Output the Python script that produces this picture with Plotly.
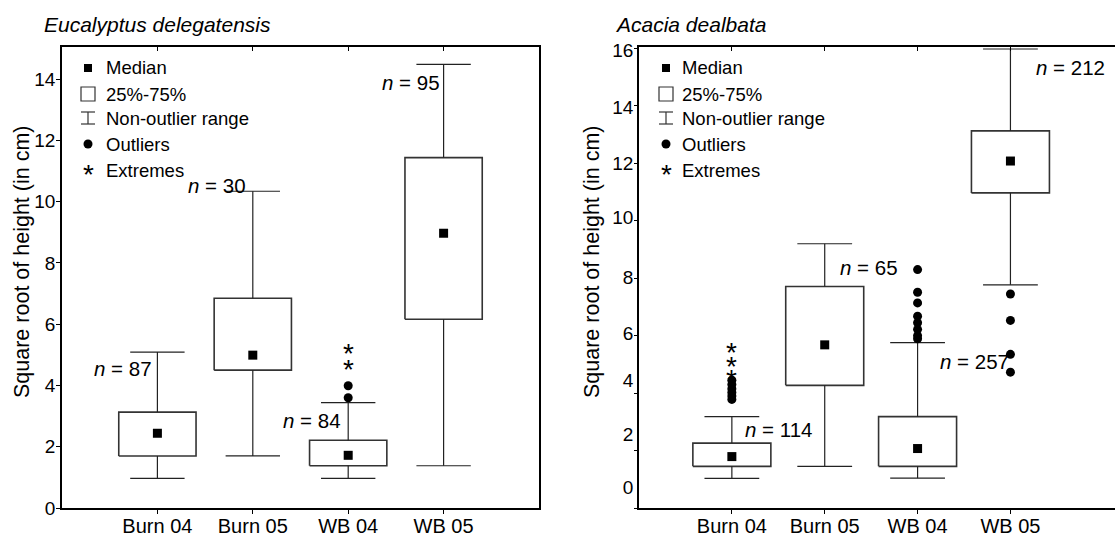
import plotly.graph_objects as go

# ---------------- data ----------------
categories = ["Burn 04", "Burn 05", "WB 04", "WB 05"]

# Eucalyptus delegatensis (square root of height, cm)
euc_low = [0.97, 1.70, 0.97, 1.38]
euc_q1 = [1.70, 4.50, 1.38, 6.16]
euc_median = [2.44, 4.99, 1.72, 8.97]
euc_q3 = [3.13, 6.85, 2.21, 11.44]
euc_high = [5.09, 10.34, 3.44, 14.48]
euc_n = [87, 30, 84, 95]
euc_outliers = [[], [], [3.60, 3.99], []]
euc_extremes = [[], [], [4.75, 5.26], []]

# Acacia dealbata
aca_low = [1.03, 1.45, 1.04, 7.77]
aca_q1 = [1.45, 4.27, 1.45, 10.97]
aca_median = [1.79, 5.68, 2.07, 12.08]
aca_q3 = [2.26, 7.71, 3.18, 13.13]
aca_high = [3.18, 9.20, 5.76, 15.98]
aca_n = [114, 65, 257, 212]
aca_outliers = [[3.78, 3.90, 4.02, 4.15, 4.30, 4.45], [],
                [5.89, 6.00, 6.22, 6.45, 6.68, 7.14, 7.51, 8.30],
                [4.73, 5.35, 6.53, 7.45]]
aca_extremes = [[4.73, 5.17, 5.66], [], [], []]

euc_yticks = [0, 2, 4, 6, 8, 10, 12, 14]
aca_ytick_labels = ["0", "2", "4", "6", "8", "10", "12", "14", "16"]
aca_ytick_marks = [0, 2, 4, 6, 8, 10, 12, 14, 16]
# label positions as printed in the original (slightly offset from tick marks)
aca_ytick_label_pos = [0.73, 2.58, 4.46, 6.09, 8.04, 10.13, 12.01, 13.96, 15.95]

titles = ["Eucalyptus delegatensis", "Acacia dealbata"]
y_title = "Square root of height (in cm)"
legend_items = ["Median", "25%-75%", "Non-outlier range", "Outliers", "Extremes"]

# ---------------- layout helpers ----------------
W, H = 1115, 538
FONT = "Liberation Sans, Arial, sans-serif"
LINE = "#222222"


def pxx(x):
    return x / W


def pxy(y):
    return 1 - y / H


fig = go.Figure()
annotations = []
shapes = []


def add_panel(xa, ya, low, q1, med, q3, high, outl, extr, box_hw, cap_hw):
    idx = list(range(len(categories)))
    # boxes
    bx, by = [], []
    for i in idx:
        bx += [i - box_hw, i + box_hw, i + box_hw, i - box_hw, i - box_hw, None]
        by += [q1[i], q1[i], q3[i], q3[i], q1[i], None]
    fig.add_trace(go.Scatter(x=bx, y=by, mode="lines", xaxis=xa, yaxis=ya,
                             line=dict(color="#333333", width=1.6),
                             hoverinfo="skip", showlegend=False))
    # whiskers
    wx, wy = [], []
    for i in idx:
        wx += [i, i, None, i, i, None, i - cap_hw, i + cap_hw, None, i - cap_hw, i + cap_hw, None]
        wy += [low[i], q1[i], None, q3[i], high[i], None, low[i], low[i], None, high[i], high[i], None]
    fig.add_trace(go.Scatter(x=wx, y=wy, mode="lines", xaxis=xa, yaxis=ya,
                             line=dict(color=LINE, width=1.2),
                             hoverinfo="skip", showlegend=False))
    # medians
    fig.add_trace(go.Scatter(x=idx, y=med, mode="markers", xaxis=xa, yaxis=ya,
                             marker=dict(symbol="square", size=9, color="black"),
                             showlegend=False))
    # outliers
    ox, oy = [], []
    for i in idx:
        for v in outl[i]:
            ox.append(i)
            oy.append(v)
    fig.add_trace(go.Scatter(x=ox, y=oy, mode="markers", xaxis=xa, yaxis=ya,
                             marker=dict(symbol="circle", size=9, color="black"),
                             showlegend=False))
    # extremes, drawn as asterisk glyphs centred on their values
    for i in idx:
        for v in extr[i]:
            annotations.append(dict(x=i, y=v, xref=xa, yref=ya, text="*",
                                    showarrow=False, xanchor="center", yanchor="middle",
                                    yshift=-7,
                                    font=dict(family=FONT, size=28, color="black")))


add_panel("x", "y", euc_low, euc_q1, euc_median, euc_q3, euc_high,
          euc_outliers, euc_extremes, 0.405, 0.285)
add_panel("x2", "y2", aca_low, aca_q1, aca_median, aca_q3, aca_high,
          aca_outliers, aca_extremes, 0.42, 0.295)

# empty helper traces so the overlay axes (top ticks / tick marks) get drawn
for xa, ya in [("x3", "y"), ("x4", "y2"), ("x2", "y4")]:
    fig.add_trace(go.Scatter(x=[None], y=[None], mode="markers", xaxis=xa, yaxis=ya,
                             showlegend=False, hoverinfo="skip"))

ydom = [pxy(508), pxy(47)]
left_dom = [pxx(62), pxx(539)]
right_dom = [pxx(639), 1.0]

tickfont = dict(family=FONT, size=19, color="black")
catfont = dict(family=FONT, size=20, color="black")

common_x = dict(tickmode="array", tickvals=list(range(len(categories))), ticktext=categories,
                showline=True, linecolor="black", linewidth=1.5, ticks="outside",
                ticklen=4, tickcolor="black", showgrid=False, zeroline=False,
                tickfont=catfont, automargin=False, mirror=True,
                ticklabelstandoff=-5)

top_x = dict(side="top", tickmode="array", tickvals=list(range(len(categories))),
             showticklabels=False, ticks="inside", ticklen=4, tickcolor="black",
             showline=True, linecolor="black", linewidth=1.5, showgrid=False,
             zeroline=False, automargin=False)

fig.update_layout(
    width=W, height=H,
    margin=dict(l=0, r=0, t=0, b=0, pad=0, autoexpand=False),
    paper_bgcolor="white", plot_bgcolor="white",
    font=dict(family=FONT, color="black"),
    xaxis=dict(domain=left_dom, range=[-1, 4], anchor="y", **common_x),
    xaxis2=dict(domain=right_dom, range=[-1, 4.126], anchor="y2", **common_x),
    xaxis3=dict(overlaying="x", anchor="y", range=[-1, 4], **top_x),
    xaxis4=dict(overlaying="x2", anchor="y2", range=[-1, 4.126], **top_x),
    yaxis=dict(domain=ydom, range=[0, 15.05], anchor="x", tickmode="array",
               tickvals=euc_yticks, ticks="outside", ticklen=4, tickcolor="black",
               ticklabelstandoff=-3,
               showline=True, linecolor="black", linewidth=1.5, mirror=True,
               showgrid=False, zeroline=False, tickfont=tickfont, automargin=False),
    yaxis2=dict(domain=ydom, range=[0, 16.05], anchor="x2", tickmode="array",
                tickvals=aca_ytick_label_pos, ticktext=aca_ytick_labels, ticks="",
                ticklabelstandoff=0,
                showline=True, linecolor="black", linewidth=1.5,
                showgrid=False, zeroline=False, tickfont=tickfont, automargin=False),
    yaxis4=dict(overlaying="y2", anchor="x2", side="left", range=[0, 16.05],
                tickmode="array", tickvals=aca_ytick_marks, showticklabels=False,
                ticks="outside", ticklen=4, tickcolor="black", showline=False,
                showgrid=False, zeroline=False, automargin=False),
)

# n labels
euc_n_pos = [(-0.04, 4.56), (0.95, 10.53), (1.95, 2.87), (2.98, 13.89)]
aca_n_pos = [(0.12, 2.74), (1.14, 8.37), (2.22, 5.10), (3.25, 15.35)]
for n, (x, y) in zip(euc_n, euc_n_pos):
    annotations.append(dict(x=x, y=y, xref="x", yref="y", text=f"<i>n</i> = {n}",
                            showarrow=False, xanchor="right", yanchor="middle",
                            font=dict(family=FONT, size=20.5, color="black")))
for n, (x, y) in zip(aca_n, aca_n_pos):
    annotations.append(dict(x=x, y=y, xref="x2", yref="y2", text=f"<i>n</i> = {n}",
                            showarrow=False, xanchor="left", yanchor="middle",
                            font=dict(family=FONT, size=20.5, color="black")))

# panel titles
for t, x0 in zip(titles, [42, 613]):
    annotations.append(dict(x=pxx(x0), y=pxy(25), xref="paper", yref="paper",
                            text=f"<i>{t}</i>", showarrow=False, xanchor="left",
                            yanchor="middle", font=dict(family=FONT, size=21, color="black")))

# y titles
for xc in [22, 592]:
    annotations.append(dict(x=pxx(xc), y=pxy(262), xref="paper", yref="paper",
                            text=y_title, textangle=-90, showarrow=False,
                            xanchor="center", yanchor="middle",
                            font=dict(family=FONT, size=21.5, color="black")))

# custom legends
leg_y = [68, 94, 118, 144, 170]
for icon_x, text_x in [(88, 104), (666, 680)]:
    for name, y in zip(legend_items, leg_y):
        annotations.append(dict(x=pxx(text_x), y=pxy(y), xref="paper", yref="paper",
                                text=name, showarrow=False, xanchor="left",
                                yanchor="middle",
                                font=dict(family=FONT, size=18.5, color="black")))
    # median: filled square
    shapes.append(dict(type="rect", xref="paper", yref="paper",
                       x0=pxx(icon_x - 4), x1=pxx(icon_x + 4),
                       y0=pxy(leg_y[0] + 4), y1=pxy(leg_y[0] - 4),
                       fillcolor="black", line=dict(width=0)))
    # box: open square
    shapes.append(dict(type="rect", xref="paper", yref="paper",
                       x0=pxx(icon_x - 7), x1=pxx(icon_x + 7),
                       y0=pxy(leg_y[1] + 7), y1=pxy(leg_y[1] - 7),
                       line=dict(color="#333333", width=1.2)))
    # range: I-beam
    yc = leg_y[2]
    for (xa0, ya0, xa1, ya1) in [(icon_x - 7, yc - 6, icon_x + 7, yc - 6),
                                 (icon_x - 7, yc + 6, icon_x + 7, yc + 6),
                                 (icon_x, yc - 6, icon_x, yc + 6)]:
        shapes.append(dict(type="line", xref="paper", yref="paper",
                           x0=pxx(xa0), y0=pxy(ya0), x1=pxx(xa1), y1=pxy(ya1),
                           line=dict(color="#333333", width=1.2)))
    # outliers: filled circle
    shapes.append(dict(type="circle", xref="paper", yref="paper",
                       x0=pxx(icon_x - 4.5), x1=pxx(icon_x + 4.5),
                       y0=pxy(leg_y[3] + 4.5), y1=pxy(leg_y[3] - 4.5),
                       fillcolor="black", line=dict(width=0)))
    # extremes: asterisk
    annotations.append(dict(x=pxx(icon_x), y=pxy(leg_y[4] + 4), xref="paper", yref="paper",
                            text="*", showarrow=False, xanchor="center", yanchor="middle",
                            font=dict(family=FONT, size=28, color="black")))

fig.update_layout(annotations=annotations, shapes=shapes)

fig.write_html(
    "out.html",
    config={"displayModeBar": False},
    post_script="document.body.style.margin='0px';document.body.style.overflow='hidden';",
)
